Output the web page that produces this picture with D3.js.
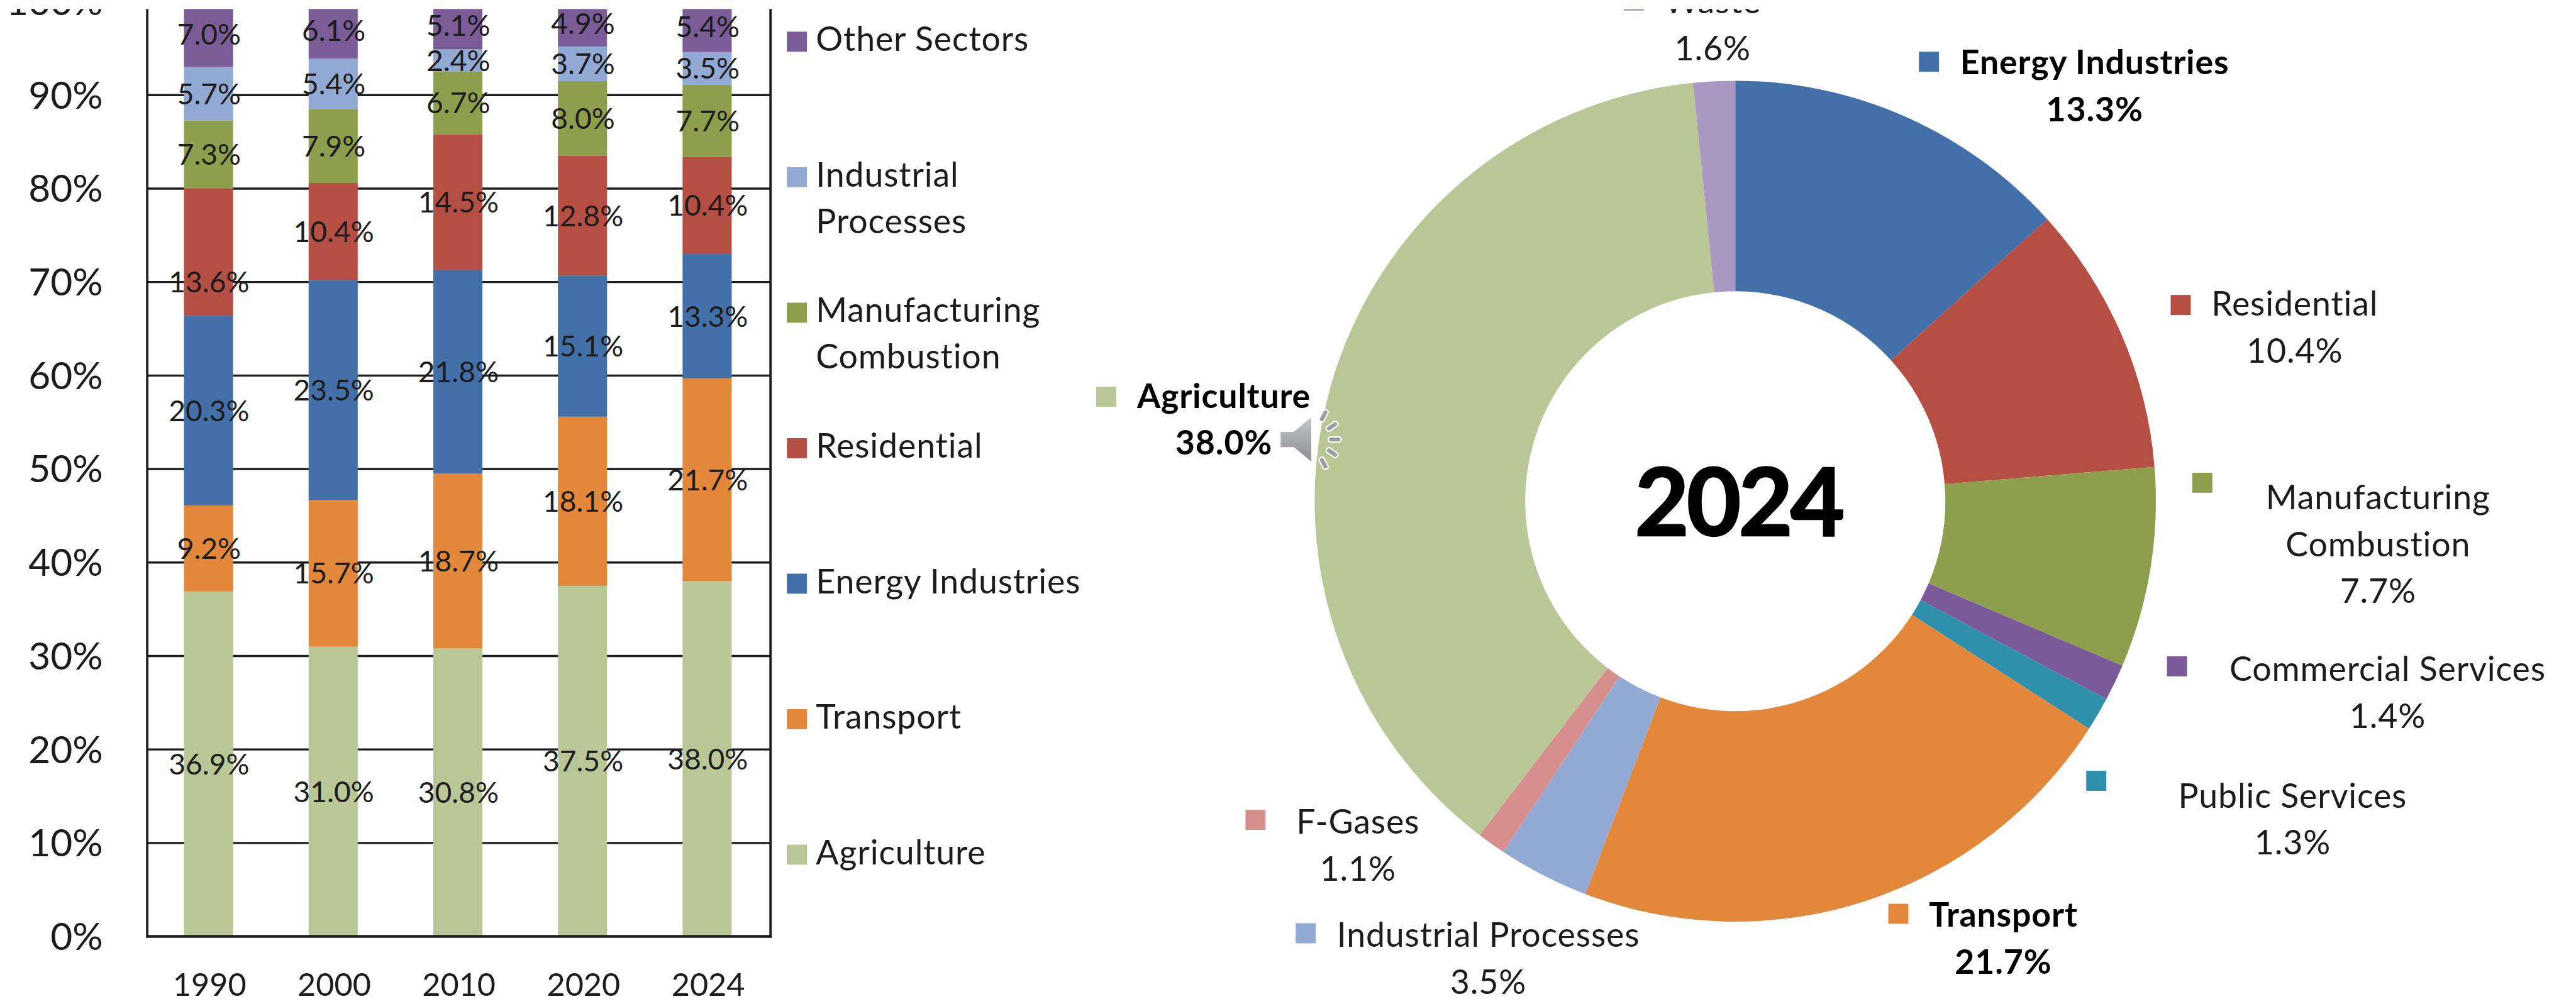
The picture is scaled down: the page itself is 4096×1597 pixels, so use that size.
<!DOCTYPE html>
<html>
<head>
<meta charset="utf-8">
<title>Greenhouse gas emissions by sector</title>
<script src="https://cdn.jsdelivr.net/npm/d3@7/dist/d3.min.js"></script>
<style>
  html, body { margin: 0; padding: 0; background: #fff; }
  svg { display: block; }
  text { font-family: Lato, "Open Sans", sans-serif; fill: #1c1c1c; }
</style>
</head>
<body>
<div id="chart"></div>
<script>
// Share of emissions per sector, in percent, for each reporting year.
const years = ["1990", "2000", "2010", "2020", "2024"];
const agriculture = [36.9, 31.0, 30.8, 37.5, 38.0];
const transport = [9.2, 15.7, 18.7, 18.1, 21.7];
const energyIndustries = [20.3, 23.5, 21.8, 15.1, 13.3];
const residential = [13.6, 10.4, 14.5, 12.8, 10.4];
const manufacturing = [7.3, 7.9, 6.7, 8.0, 7.7];
const industrialProcesses = [5.7, 5.4, 2.4, 3.7, 3.5];
const otherSectors = [7.0, 6.1, 5.1, 4.9, 5.4];

const barSectors = ["Agriculture", "Transport", "Energy Industries", "Residential",
  "Manufacturing Combustion", "Industrial Processes", "Other Sectors"];
const barSeries = [agriculture, transport, energyIndustries, residential,
  manufacturing, industrialProcesses, otherSectors];

// 2024 breakdown, clockwise from twelve o'clock.
const pieSectors = ["Energy Industries", "Residential", "Manufacturing Combustion",
  "Commercial Services", "Public Services", "Transport", "Industrial Processes",
  "F-Gases", "Agriculture", "Waste"];
const pieValues = [13.3, 10.4, 7.7, 1.4, 1.3, 21.7, 3.5, 1.1, 38.0, 1.6];
const pieYear = "2024";

const sectorColor = d3.scaleOrdinal()
  .domain(["Energy Industries", "Residential", "Manufacturing Combustion", "Commercial Services",
    "Public Services", "Transport", "Industrial Processes", "F-Gases", "Agriculture", "Waste", "Other Sectors"])
  .range(["#4470aa", "#b64f43", "#8d9f4c", "#7a5a98", "#2f90ab", "#e3883a",
    "#92a9d3", "#d68f8c", "#b9c796", "#ab98c1", "#7a5c97"]);

// Everything is laid out in a 4881 x 1903 space and scaled down by the viewBox.
const W = 4881, H = 1903;
const svg = d3.select("#chart").append("svg")
  .attr("width", 4096).attr("height", 1597)
  .attr("viewBox", `0 0 ${W} ${H}`);

const plot = { left: 279, right: 1460, top: 3, bottom: 1775 };
const FONT = { tick: 72, year: 60, value: 55, legend: 64 };
const LEGEND_SPACING = 1;

const x = d3.scaleBand().domain(years).range([plot.left - 2, plot.right - 2])
  .paddingInner(0.606).paddingOuter(0.303);
const y = d3.scaleLinear().domain([0, 100]).range([plot.bottom, plot.top]);

// Horizontal gridlines sit behind the columns.
svg.append("g").selectAll("line")
  .data(d3.range(10, 101, 10))
  .join("line")
  .attr("x1", plot.left).attr("x2", plot.right)
  .attr("y1", d => y(d)).attr("y2", d => y(d))
  .attr("stroke", "#1c1c1c").attr("stroke-width", 4);

// Stacked columns.
const rows = years.map((yr, i) => {
  const row = { year: yr };
  barSectors.forEach((s, k) => { row[s] = barSeries[k][i]; });
  return row;
});
const stacked = d3.stack().keys(barSectors)(rows);

svg.append("g").selectAll("g")
  .data(stacked)
  .join("g")
  .attr("fill", s => sectorColor(s.key))
  .selectAll("rect")
  .data(s => s)
  .join("rect")
  .attr("x", d => x(d.data.year))
  .attr("width", x.bandwidth())
  .attr("y", d => y(d[1]))
  .attr("height", d => y(d[0]) - y(d[1]));

// Axes: the left and right rules close the plot box.
const yAxis = svg.append("g")
  .attr("transform", `translate(${plot.left},0)`)
  .call(d3.axisLeft(y).tickValues(d3.range(0, 101, 10)).tickFormat(d => d + "%").tickSize(0).tickPadding(84));
yAxis.select(".domain").remove();
yAxis.selectAll("text").attr("font-size", FONT.tick).attr("font-family", null).attr("dy", "0.347em");

const xAxis = svg.append("g")
  .attr("transform", `translate(0,${plot.bottom})`)
  .call(d3.axisBottom(x).tickSize(0));
xAxis.select(".domain").remove();
xAxis.selectAll("text").attr("font-size", FONT.year).attr("font-family", null)
  .attr("x", 2).attr("y", 113).attr("dy", 0);
svg.selectAll(".tick").attr("font-family", null).attr("font-size", null);

const frame = svg.append("g").attr("stroke", "#1c1c1c").attr("fill", "none");
frame.append("line").attr("x1", plot.left).attr("x2", plot.left)
  .attr("y1", plot.top).attr("y2", plot.bottom + 2).attr("stroke-width", 4.5);
frame.append("line").attr("x1", plot.right).attr("x2", plot.right)
  .attr("y1", plot.top).attr("y2", plot.bottom + 2).attr("stroke-width", 4.5);
frame.append("line").attr("x1", plot.left - 2).attr("x2", plot.right + 2)
  .attr("y1", plot.bottom).attr("y2", plot.bottom).attr("stroke-width", 5.5);

// Value labels centred on each segment; one label is nudged off its segment's middle.
const valueNudge = { "1990|Residential": -3.2 };
svg.append("g").selectAll("g")
  .data(stacked)
  .join("g")
  .selectAll("text")
  .data(s => s.map(d => ({ d, key: s.key })))
  .join("text")
  .attr("x", ({ d }) => x(d.data.year) + x.bandwidth() / 2 + 1)
  .attr("y", ({ d, key }) => y((d[0] + d[1]) / 2 + (valueNudge[d.data.year + "|" + key] || 0)))
  .attr("dy", "0.36em")
  .attr("text-anchor", "middle")
  .attr("font-size", FONT.value)
  .text(({ d, key }) => d.data[key].toFixed(1) + "%");

// Legend between the two charts, top entry first.
const legendRows = [
  { name: "Other Sectors", lines: ["Other Sectors"] },
  { name: "Industrial Processes", lines: ["Industrial", "Processes"] },
  { name: "Manufacturing Combustion", lines: ["Manufacturing", "Combustion"] },
  { name: "Residential", lines: ["Residential"] },
  { name: "Energy Industries", lines: ["Energy Industries"] },
  { name: "Transport", lines: ["Transport"] },
  { name: "Agriculture", lines: ["Agriculture"] }
];
const legendY = d3.scaleLinear().domain([0, 6]).range([79, 1620]);
const legend = svg.append("g").selectAll("g")
  .data(legendRows)
  .join("g")
  .attr("transform", (d, i) => `translate(1491,${legendY(i)})`);
legend.append("rect")
  .attr("y", -19).attr("width", 38).attr("height", 38)
  .attr("fill", d => sectorColor(d.name));
legend.selectAll("text")
  .data(d => d.lines)
  .join("text")
  .attr("x", 55)
  .attr("y", (l, i) => 18 + i * 88)
  .attr("font-size", FONT.legend)
  .attr("letter-spacing", LEGEND_SPACING)
  .text(l => l);

// Doughnut for the latest year.
const cx = 3288, cy = 950, outerR = 797, innerR = 398;
const pie = d3.pie().sort(null).value(d => d.value);
const arc = d3.arc().innerRadius(innerR).outerRadius(outerR);
const donut = svg.append("g").attr("transform", `translate(${cx},${cy})`);
donut.selectAll("path")
  .data(pie(pieSectors.map((name, i) => ({ name, value: pieValues[i] }))))
  .join("path")
  .attr("d", arc)
  .attr("fill", d => sectorColor(d.data.name));

donut.append("text")
  .attr("text-anchor", "middle")
  .attr("x", 6)
  .attr("y", 65)
  .attr("font-size", 178)
  .attr("font-weight", 700)
  .attr("letter-spacing", -5)
  .attr("stroke", "#000")
  .attr("stroke-width", 3)
  .style("fill", "#000")
  .text(pieYear);

// Doughnut callouts: swatch, sector name and share, placed by hand around the ring.
const callouts = [
  { name: "Energy Industries", sx: 3636, sy: 98, cx: 3969, base: 141, lines: ["Energy Industries"], bold: true },
  { name: "Residential", sx: 4113, sy: 559, cx: 4348, base: 598, lines: ["Residential"] },
  { name: "Manufacturing Combustion", sx: 4154, sy: 896, cx: 4506, base: 965, lines: ["Manufacturing", "Combustion"] },
  { name: "Commercial Services", sx: 4106, sy: 1244, cx: 4524, base: 1291, lines: ["Commercial Services"] },
  { name: "Public Services", sx: 3953, sy: 1461, cx: 4344, base: 1531, lines: ["Public Services"] },
  { name: "Transport", sx: 3578, sy: 1713, cx: 3796, base: 1757, lines: ["Transport"], bold: true },
  { name: "Industrial Processes", sx: 2455, sy: 1750, cx: 2820, base: 1795, lines: ["Industrial Processes"] },
  { name: "F-Gases", sx: 2360, sy: 1535, cx: 2573, base: 1580, lines: ["F-Gases"] },
  { name: "Agriculture", sx: 2077, sy: 733, cx: 2319, base: 773, lines: ["Agriculture"], bold: true },
  { name: "Waste", sx: 3077, sy: -18, cx: 3245, base: 25, lines: ["Waste"] }
];
const callout = svg.append("g").selectAll("g").data(callouts).join("g");
callout.append("rect")
  .attr("x", d => d.sx).attr("y", d => d.sy)
  .attr("width", 38).attr("height", 38)
  .attr("fill", d => sectorColor(d.name));
callout.selectAll("text")
  .data(d => {
    const share = pieValues[pieSectors.indexOf(d.name)].toFixed(1) + "%";
    return [...d.lines, share].map((t, i) => ({ t, i, c: d }));
  })
  .join("text")
  .attr("x", d => d.c.cx)
  .attr("y", d => d.c.base + d.i * 89)
  .attr("text-anchor", "middle")
  .attr("font-size", FONT.legend)
  .attr("letter-spacing", LEGEND_SPACING)
  .attr("font-weight", d => d.c.bold ? 700 : 400)
  .style("fill", d => d.c.bold ? "#000" : null)
  .text(d => d.t);

// Audio badge sitting on the left edge of the ring.
const speakerGrad = svg.append("defs").append("linearGradient")
  .attr("id", "speakerFill").attr("x1", 0).attr("y1", 0).attr("x2", 0).attr("y2", 1);
speakerGrad.append("stop").attr("offset", 0).attr("stop-color", "#c4c5c8");
speakerGrad.append("stop").attr("offset", 1).attr("stop-color", "#8b8c8f");
const speaker = svg.append("g").attr("transform", "translate(2425,833)");
speaker.append("path")
  .attr("d", "M0,-16 L26,-16 L61,-45 L61,45 L26,16 L0,16 Z")
  .attr("fill", "url(#speakerFill)")
  .attr("stroke", "#fff").attr("stroke-width", 3).attr("stroke-linejoin", "round");
speaker.selectAll("rect.wave")
  .data([[83, -45, -62], [99, -25, -35], [104, 0, 0], [99, 25, 35], [83, 45, 62]])
  .join("rect")
  .attr("class", "wave")
  .attr("x", -12).attr("y", -5).attr("width", 24).attr("height", 10).attr("rx", 4)
  .attr("transform", d => `translate(${d[0]},${d[1]}) rotate(${d[2]})`)
  .attr("fill", "#9c9d9f").attr("stroke", "#fff").attr("stroke-width", 2.5);

// The page starts just below a blank strip that trims whatever runs past the top edge.
svg.append("rect").attr("x", 0).attr("y", 0).attr("width", W).attr("height", 17).attr("fill", "#fff");
</script>
</body>
</html>
